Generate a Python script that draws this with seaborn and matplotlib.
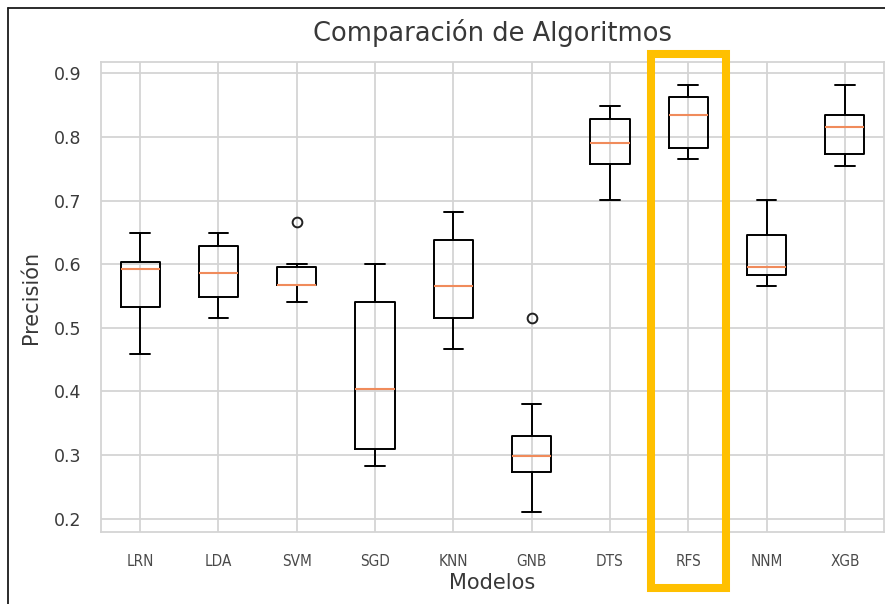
import numpy as np
import pandas as pd
import matplotlib
matplotlib.use("Agg")
import matplotlib.pyplot as plt
import matplotlib.transforms as mtransforms
from matplotlib.patches import Rectangle
from matplotlib.lines import Line2D
import seaborn as sns

# ---- data (precision per fold) ----
modelos = ["LRN", "LDA", "SVM", "SGD", "KNN", "GNB", "DTS", "RFS", "NNM", "XGB"]
LRN = [0.459, 0.510, 0.532, 0.560, 0.592, 0.598, 0.604, 0.630, 0.649]
LDA = [0.515, 0.530, 0.549, 0.570, 0.586, 0.600, 0.629, 0.640, 0.649]
SVM = [0.541, 0.555, 0.567, 0.567, 0.568, 0.580, 0.595, 0.600, 0.666]
SGD = [0.282, 0.300, 0.310, 0.350, 0.404, 0.450, 0.541, 0.570, 0.600]
KNN = [0.467, 0.490, 0.515, 0.540, 0.566, 0.600, 0.638, 0.660, 0.682]
GNB = [0.210, 0.250, 0.273, 0.290, 0.298, 0.310, 0.330, 0.381, 0.515]
DTS = [0.701, 0.730, 0.757, 0.770, 0.791, 0.810, 0.829, 0.840, 0.849]
RFS = [0.766, 0.775, 0.783, 0.800, 0.834, 0.850, 0.863, 0.870, 0.882]
NNM = [0.566, 0.575, 0.583, 0.590, 0.595, 0.620, 0.646, 0.670, 0.701]
XGB = [0.755, 0.765, 0.774, 0.800, 0.816, 0.825, 0.834, 0.860, 0.882]
resultados = [LRN, LDA, SVM, SGD, KNN, GNB, DTS, RFS, NNM, XGB]
destacado = "RFS"

df = pd.DataFrame({
    "Modelo": np.repeat(modelos, [len(r) for r in resultados]),
    "Precision": np.concatenate(resultados),
})

sns.set_theme(style="whitegrid")
plt.rcParams["font.family"] = ["DejaVu Sans"]

fig = plt.figure(figsize=(8.85, 6.04), dpi=100)
ax = fig.add_axes([101 / 885, 72 / 604, 783 / 885, 470 / 604])

sns.boxplot(
    data=df, x="Modelo", y="Precision", order=modelos, ax=ax,
    width=0.5, fill=False, color="black", linewidth=1.4, whis=1.5,
    medianprops=dict(color="#f08b5b", linewidth=1.5),
    flierprops=dict(marker="o", markerfacecolor="none", markeredgecolor="#222222",
                    markersize=7, markeredgewidth=1.4),
)

ax.set_xlim(-0.5, len(modelos) - 0.5)
ax.set_ylim(0.179, 0.918)
ax.set_yticks([0.2, 0.3, 0.4, 0.5, 0.6, 0.7, 0.8, 0.9])
ax.tick_params(axis="y", labelsize=12.5, labelcolor="#3a3a3a", pad=8)
ax.tick_params(axis="x", labelsize=11, labelcolor="#4a4a4a", pad=10)
for lab in ax.get_xticklabels():
    lab.set_fontstretch("condensed")
    lab.set_fontsize(11)
ax.grid(True, color="#d4d4d4", linewidth=1.3)
for s in ax.spines.values():
    s.set_color("#d4d4d4")
    s.set_linewidth(1.3)

ax.set_title("Comparación de Algoritmos", fontsize=18.5, color="#383838", pad=15)
ax.set_xlabel("Modelos", fontsize=15, color="#383838", labelpad=3)
ax.set_ylabel("Precisión", fontsize=15, color="#383838", labelpad=9)

# highlight rectangle around the selected model
i = modelos.index(destacado)
trans = mtransforms.blended_transform_factory(ax.transData, fig.transFigure)
rect = Rectangle((i - 0.48, 16 / 604), 0.96, (588 - 54) / 604, transform=trans,
                 fill=False, edgecolor="#FFC000", linewidth=5.8, clip_on=False, zorder=10)
fig.add_artist(rect)

# thin black frame (left & top) of the screenshot
fig.add_artist(Line2D([8 / 885, 8 / 885], [0, 1 - 7.5 / 604], transform=fig.transFigure,
                      color="#1a1a1a", linewidth=1.3))
fig.add_artist(Line2D([8 / 885, 1], [1 - 7.5 / 604, 1 - 7.5 / 604], transform=fig.transFigure,
                      color="#1a1a1a", linewidth=1.3))

fig.savefig("out.png", dpi=100)
